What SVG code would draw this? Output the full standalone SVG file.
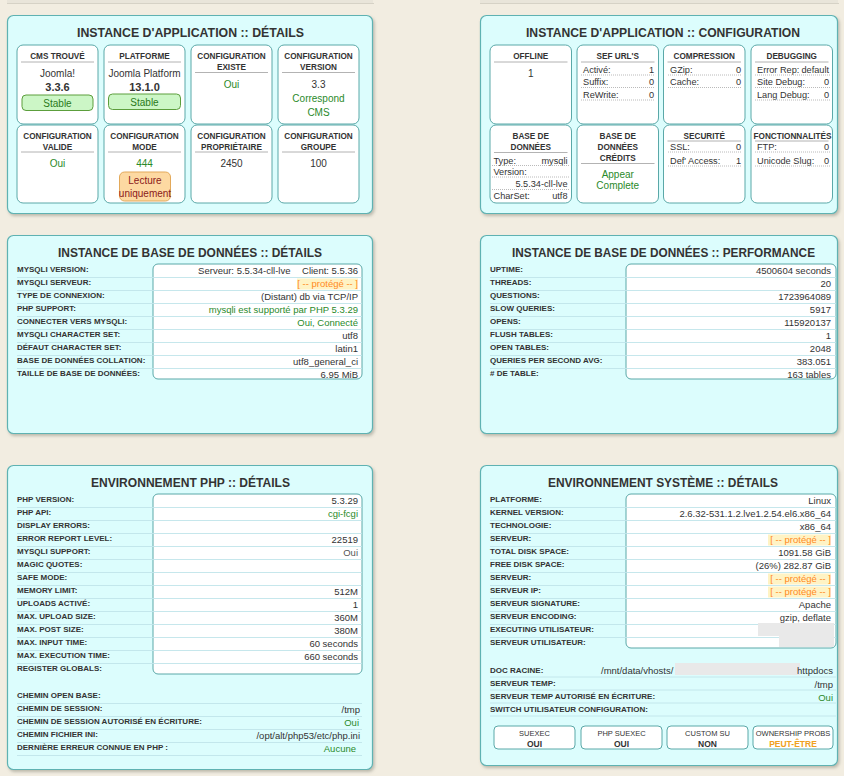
<svg xmlns="http://www.w3.org/2000/svg" width="844" height="776" viewBox="0 0 844 776">
<defs>
<filter id="sh" x="-5%" y="-5%" width="112%" height="112%">
<feDropShadow dx="1.5" dy="2" stdDeviation="1.5" flood-color="#7a7a70" flood-opacity="0.45"/>
</filter>
<style>
text{font-family:"Liberation Sans",Arial,sans-serif;fill:#333}
.panel{fill:#dcfdfd;stroke:#5fb2b2;stroke-width:1.2}
.card{fill:#fff;stroke:#5aa8a8;stroke-width:1}
.box{fill:#fff;stroke:#5aa8a8;stroke-width:1}
.title{font-size:12.5px;font-weight:bold;text-anchor:middle}
.ch{font-size:8.2px;font-weight:bold;text-anchor:middle}
.hl{stroke:#a0a0a0;stroke-width:0.8}
.dl{stroke:#a8a8a8;stroke-width:0.8;stroke-dasharray:1 1}
.ct{font-size:10px;text-anchor:middle}
.cb{font-size:11px;font-weight:bold;text-anchor:middle}
.rl{font-size:9.2px}
.rv{font-size:9.2px;text-anchor:end}
.lbl{font-size:8px;font-weight:bold}
.val{font-size:9.5px;text-anchor:end}
.g{fill:#2a8a2a}
.prot{fill:#ff8a1e}
.ph{fill:#fff3c4}
.sep{stroke:#bfe4ea;stroke-width:0.9}
.blur{fill:#e9e9e9}
.bt{font-size:7.5px;text-anchor:middle}
.bb{font-size:8.5px;font-weight:bold;text-anchor:middle}
</style>
</defs>
<rect x="0" y="0" width="844" height="776" fill="#f2ede1"/>
<rect x="7" y="0" width="366" height="3" fill="#e9e5da"/>
<rect x="480" y="0" width="358" height="3" fill="#e9e5da"/>
<line x1="7" y1="3.5" x2="374" y2="3.5" stroke="#d6d2c6"/>
<line x1="480" y1="3.5" x2="839" y2="3.5" stroke="#d6d2c6"/>

<!-- Panel 1 -->
<g id="app-details">
<rect class="panel" x="7.5" y="15.5" width="365" height="198" rx="6" filter="url(#sh)"/>
<text class="title" x="190.5" y="37" textLength="227" lengthAdjust="spacingAndGlyphs">INSTANCE D'APPLICATION :: DÉTAILS</text>
<g id="cms">
<rect class="card" x="17" y="45" width="81" height="79" rx="6"/>
<text class="ch" x="57.5" y="59">CMS TROUVÉ</text>
<line class="hl" x1="21" y1="62" x2="94" y2="62"/>
<text class="ct" x="57.5" y="77">Joomla!</text>
<text class="cb" x="57.5" y="91">3.3.6</text>
<rect x="22" y="95" width="71" height="15.5" rx="4" fill="#ccf6c6" stroke="#5c9e3c"/>
<text class="ct" x="57.5" y="106.5" style="fill:#2a7a1a">Stable</text>
</g>
<g id="platforme">
<rect class="card" x="104" y="45" width="81" height="79" rx="6"/>
<text class="ch" x="144.5" y="59">PLATFORME</text>
<line class="hl" x1="108" y1="62" x2="181" y2="62"/>
<text class="ct" x="144.5" y="77">Joomla Platform</text>
<text class="cb" x="144.5" y="91">13.1.0</text>
<rect x="108.5" y="94" width="72" height="15.5" rx="4" fill="#ccf6c6" stroke="#5c9e3c"/>
<text class="ct" x="144.5" y="105.5" style="fill:#2a7a1a">Stable</text>
</g>
<g id="conf-existe">
<rect class="card" x="191" y="45" width="81" height="79" rx="6"/>
<text class="ch" x="231.5" y="59">CONFIGURATION</text>
<text class="ch" x="231.5" y="70">EXISTE</text>
<line class="hl" x1="195" y1="72.5" x2="268" y2="72.5"/>
<text class="ct g" x="231.5" y="87.5">Oui</text>
</g>
<g id="conf-version">
<rect class="card" x="278" y="45" width="81" height="79" rx="6"/>
<text class="ch" x="318.5" y="59">CONFIGURATION</text>
<text class="ch" x="318.5" y="70">VERSION</text>
<line class="hl" x1="282" y1="72.5" x2="355" y2="72.5"/>
<text class="ct" x="318.5" y="87.5">3.3</text>
<text class="ct g" x="318.5" y="102">Correspond</text>
<text class="ct g" x="318.5" y="116">CMS</text>
</g>
<g id="conf-valide">
<rect class="card" x="17" y="125" width="81" height="78" rx="6"/>
<text class="ch" x="57.5" y="138.5">CONFIGURATION</text>
<text class="ch" x="57.5" y="149.5">VALIDE</text>
<line class="hl" x1="21" y1="152" x2="94" y2="152"/>
<text class="ct g" x="57.5" y="167">Oui</text>
</g>
<g id="conf-mode">
<rect class="card" x="104" y="125" width="81" height="78" rx="6"/>
<text class="ch" x="144.5" y="138.5">CONFIGURATION</text>
<text class="ch" x="144.5" y="149.5">MODE</text>
<line class="hl" x1="108" y1="152" x2="181" y2="152"/>
<text class="ct g" x="144.5" y="167">444</text>
<rect x="119.5" y="172" width="51" height="29" rx="5" fill="#fdd9a2" stroke="#e3a95a"/>
<text class="ct" x="145" y="183.5" style="fill:#8b1a1a">Lecture</text>
<text class="ct" x="145" y="197" style="fill:#8b1a1a">uniquement</text>
</g>
<g id="conf-proprietaire">
<rect class="card" x="191" y="125" width="81" height="78" rx="6"/>
<text class="ch" x="231.5" y="138.5">CONFIGURATION</text>
<text class="ch" x="231.5" y="149.5">PROPRIÉTAIRE</text>
<line class="hl" x1="195" y1="152" x2="268" y2="152"/>
<text class="ct" x="231.5" y="167">2450</text>
</g>
<g id="conf-groupe">
<rect class="card" x="278" y="125" width="81" height="78" rx="6"/>
<text class="ch" x="318.5" y="138.5">CONFIGURATION</text>
<text class="ch" x="318.5" y="149.5">GROUPE</text>
<line class="hl" x1="282" y1="152" x2="355" y2="152"/>
<text class="ct" x="318.5" y="167">100</text>
</g>
</g>

<!-- Panel 2 -->
<g id="app-config">
<rect class="panel" x="480.5" y="15.5" width="357" height="198" rx="6" filter="url(#sh)"/>
<text class="title" x="663" y="37" textLength="274" lengthAdjust="spacingAndGlyphs">INSTANCE D'APPLICATION :: CONFIGURATION</text>
<g id="offline">
<rect class="card" x="490" y="45" width="81.5" height="79" rx="6"/>
<text class="ch" x="530.75" y="59">OFFLINE</text>
<line class="hl" x1="494" y1="62" x2="567.5" y2="62"/>
<text class="ct" x="530.75" y="77">1</text>
</g>
<g id="sef">
<rect class="card" x="577" y="45" width="81.5" height="79" rx="6"/>
<text class="ch" x="617.75" y="59">SEF URL'S</text>
<line class="hl" x1="581" y1="62" x2="654.5" y2="62"/>
<text class="rl" x="583" y="72.5">Activé:</text><text class="rv" x="654" y="72.5">1</text>
<line class="dl" x1="581" y1="75" x2="655" y2="75"/>
<text class="rl" x="583" y="85">Suffix:</text><text class="rv" x="654" y="85">0</text>
<line class="dl" x1="581" y1="87.5" x2="655" y2="87.5"/>
<text class="rl" x="583" y="97.5">ReWrite:</text><text class="rv" x="654" y="97.5">0</text>
<line class="dl" x1="581" y1="100" x2="655" y2="100"/>
</g>
<g id="compression">
<rect class="card" x="663.5" y="45" width="81.5" height="79" rx="6"/>
<text class="ch" x="704.25" y="59">COMPRESSION</text>
<line class="hl" x1="667.5" y1="62" x2="741" y2="62"/>
<text class="rl" x="670" y="72.5">GZip:</text><text class="rv" x="741" y="72.5">0</text>
<line class="dl" x1="668" y1="75" x2="742" y2="75"/>
<text class="rl" x="670" y="85">Cache:</text><text class="rv" x="741" y="85">0</text>
<line class="dl" x1="668" y1="87.5" x2="742" y2="87.5"/>
</g>
<g id="debugging">
<rect class="card" x="751" y="45" width="81.5" height="79" rx="6"/>
<text class="ch" x="791.75" y="59">DEBUGGING</text>
<line class="hl" x1="755" y1="62" x2="828.5" y2="62"/>
<text class="rl" x="757" y="72.5">Error Rep:</text><text class="rv" x="829" y="72.5">default</text>
<line class="dl" x1="755" y1="75" x2="830" y2="75"/>
<text class="rl" x="757" y="85">Site Debug:</text><text class="rv" x="829" y="85">0</text>
<line class="dl" x1="755" y1="87.5" x2="830" y2="87.5"/>
<text class="rl" x="757" y="97.5">Lang Debug:</text><text class="rv" x="829" y="97.5">0</text>
<line class="dl" x1="755" y1="100" x2="830" y2="100"/>
</g>
<g id="database">
<rect class="card" x="490" y="125" width="81.5" height="78" rx="6"/>
<text class="ch" x="530.75" y="138.5">BASE DE</text>
<text class="ch" x="530.75" y="149.5">DONNÉES</text>
<line class="hl" x1="494" y1="152.5" x2="567.5" y2="152.5"/>
<text class="rl" x="493.5" y="163.5">Type:</text><text class="rv" x="567.5" y="163.5">mysqli</text>
<line class="dl" x1="492" y1="165.5" x2="569" y2="165.5"/>
<text class="rl" x="493.5" y="175">Version:</text>
<line class="dl" x1="492" y1="177" x2="569" y2="177"/>
<text class="rv" x="567.5" y="187">5.5.34-cll-lve</text>
<line class="dl" x1="492" y1="189.5" x2="569" y2="189.5"/>
<text class="rl" x="493.5" y="199">CharSet:</text><text class="rv" x="567.5" y="199">utf8</text>
</g>
<g id="db-credits">
<rect class="card" x="577" y="125" width="81.5" height="78" rx="6"/>
<text class="ch" x="617.75" y="138.5">BASE DE</text>
<text class="ch" x="617.75" y="149.5">DONNÉES</text>
<text class="ch" x="617.75" y="160.5">CRÉDITS</text>
<line class="hl" x1="581" y1="163.5" x2="654.5" y2="163.5"/>
<text class="ct g" x="617.75" y="177.5">Appear</text>
<text class="ct g" x="617.75" y="189">Complete</text>
</g>
<g id="securite">
<rect class="card" x="663.5" y="125" width="81.5" height="78" rx="6"/>
<text class="ch" x="704.25" y="138.5">SECURITÉ</text>
<line class="hl" x1="667.5" y1="141" x2="741" y2="141"/>
<text class="rl" x="670" y="150">SSL:</text><text class="rv" x="741" y="150">0</text>
<line class="dl" x1="668" y1="152" x2="742" y2="152"/>
<text class="rl" x="670" y="163.5">Def' Access:</text><text class="rv" x="741" y="163.5">1</text>
<line class="dl" x1="668" y1="166" x2="742" y2="166"/>
</g>
<g id="fonctionnalites">
<rect class="card" x="751" y="125" width="81.5" height="78" rx="6"/>
<text class="ch" x="792.5" y="138.5" textLength="78" lengthAdjust="spacingAndGlyphs">FONCTIONNALITÉS</text>
<line class="hl" x1="755" y1="141" x2="828.5" y2="141"/>
<text class="rl" x="757" y="150">FTP:</text><text class="rv" x="829" y="150">0</text>
<line class="dl" x1="755" y1="152" x2="830" y2="152"/>
<text class="rl" x="757" y="163.5">Unicode Slug:</text><text class="rv" x="829" y="163.5">0</text>
<line class="dl" x1="755" y1="166" x2="830" y2="166"/>
</g>
</g>

<!-- Panel 3 -->
<g id="db-details">
<rect class="panel" x="7.5" y="235.5" width="365" height="198" rx="6" filter="url(#sh)"/>
<text class="title" x="190" y="257" textLength="264" lengthAdjust="spacingAndGlyphs">INSTANCE DE BASE DE DONNÉES :: DÉTAILS</text>
<rect class="box" x="153" y="264" width="209" height="115" rx="5"/>
<g>
<line class="sep" x1="17" y1="277.5" x2="362" y2="277.5"/>
<line class="sep" x1="17" y1="290.5" x2="362" y2="290.5"/>
<line class="sep" x1="17" y1="303.5" x2="362" y2="303.5"/>
<line class="sep" x1="17" y1="316.5" x2="362" y2="316.5"/>
<line class="sep" x1="17" y1="329.5" x2="362" y2="329.5"/>
<line class="sep" x1="17" y1="342.5" x2="362" y2="342.5"/>
<line class="sep" x1="17" y1="355.5" x2="362" y2="355.5"/>
<line class="sep" x1="17" y1="368.5" x2="362" y2="368.5"/>
</g>
<rect class="ph" x="297" y="278.5" width="61" height="11"/>
<text class="lbl" x="17" y="272">MYSQLI VERSION:</text>
<text class="val" x="290.5" y="274">Serveur: 5.5.34-cll-lve</text><text class="val" x="358" y="274">Client: 5.5.36</text>
<text class="lbl" x="17" y="285">MYSQLI SERVEUR:</text>
<text class="val prot" x="358" y="287">[ -- protégé -- ]</text>
<text class="lbl" x="17" y="298">TYPE DE CONNEXION:</text>
<text class="val" x="358" y="300">(Distant) db via TCP/IP</text>
<text class="lbl" x="17" y="311">PHP SUPPORT:</text>
<text class="val g" x="358" y="313">mysqli est supporté par PHP 5.3.29</text>
<text class="lbl" x="17" y="324">CONNECTER VERS MYSQLI:</text>
<text class="val g" x="358" y="326">Oui, Connecté</text>
<text class="lbl" x="17" y="337">MYSQLI CHARACTER SET:</text>
<text class="val" x="358" y="339">utf8</text>
<text class="lbl" x="17" y="350">DÉFAUT CHARACTER SET:</text>
<text class="val" x="358" y="352">latin1</text>
<text class="lbl" x="17" y="363">BASE DE DONNÉES COLLATION:</text>
<text class="val" x="358" y="365">utf8_general_ci</text>
<text class="lbl" x="17" y="376">TAILLE DE BASE DE DONNÉES:</text>
<text class="val" x="358" y="378">6.95 MiB</text>
</g>

<!-- Panel 4 -->
<g id="db-performance">
<rect class="panel" x="480.5" y="235.5" width="357" height="198" rx="6" filter="url(#sh)"/>
<text class="title" x="663.5" y="257" style="font-size:12px" textLength="303" lengthAdjust="spacingAndGlyphs">INSTANCE DE BASE DE DONNÉES :: PERFORMANCE</text>
<rect class="box" x="626" y="264" width="210" height="115" rx="5"/>
<g>
<line class="sep" x1="490" y1="277.5" x2="836" y2="277.5"/>
<line class="sep" x1="490" y1="290.5" x2="836" y2="290.5"/>
<line class="sep" x1="490" y1="303.5" x2="836" y2="303.5"/>
<line class="sep" x1="490" y1="316.5" x2="836" y2="316.5"/>
<line class="sep" x1="490" y1="329.5" x2="836" y2="329.5"/>
<line class="sep" x1="490" y1="342.5" x2="836" y2="342.5"/>
<line class="sep" x1="490" y1="355.5" x2="836" y2="355.5"/>
<line class="sep" x1="490" y1="368.5" x2="836" y2="368.5"/>
</g>
<text class="lbl" x="490" y="272">UPTIME:</text><text class="val" x="831" y="274">4500604 seconds</text>
<text class="lbl" x="490" y="285">THREADS:</text><text class="val" x="831" y="287">20</text>
<text class="lbl" x="490" y="298">QUESTIONS:</text><text class="val" x="831" y="300">1723964089</text>
<text class="lbl" x="490" y="311">SLOW QUERIES:</text><text class="val" x="831" y="313">5917</text>
<text class="lbl" x="490" y="324">OPENS:</text><text class="val" x="831" y="326">115920137</text>
<text class="lbl" x="490" y="337">FLUSH TABLES:</text><text class="val" x="831" y="339">1</text>
<text class="lbl" x="490" y="350">OPEN TABLES:</text><text class="val" x="831" y="352">2048</text>
<text class="lbl" x="490" y="363">QUERIES PER SECOND AVG:</text><text class="val" x="831" y="365">383.051</text>
<text class="lbl" x="490" y="376"># DE TABLE:</text><text class="val" x="831" y="378">163 tables</text>
</g>

<!-- Panel 5 -->
<g id="php-env">
<rect class="panel" x="7.5" y="465.5" width="365" height="304" rx="6" filter="url(#sh)"/>
<text class="title" x="190.5" y="487" textLength="199" lengthAdjust="spacingAndGlyphs">ENVIRONNEMENT PHP :: DÉTAILS</text>
<rect class="box" x="153" y="494" width="209" height="180" rx="5"/>
<g>
<line class="sep" x1="17" y1="507.5" x2="362" y2="507.5"/>
<line class="sep" x1="17" y1="520.5" x2="362" y2="520.5"/>
<line class="sep" x1="17" y1="533.5" x2="362" y2="533.5"/>
<line class="sep" x1="17" y1="546.5" x2="362" y2="546.5"/>
<line class="sep" x1="17" y1="559.5" x2="362" y2="559.5"/>
<line class="sep" x1="17" y1="572.5" x2="362" y2="572.5"/>
<line class="sep" x1="17" y1="585.5" x2="362" y2="585.5"/>
<line class="sep" x1="17" y1="598.5" x2="362" y2="598.5"/>
<line class="sep" x1="17" y1="611.5" x2="362" y2="611.5"/>
<line class="sep" x1="17" y1="624.5" x2="362" y2="624.5"/>
<line class="sep" x1="17" y1="637.5" x2="362" y2="637.5"/>
<line class="sep" x1="17" y1="650.5" x2="362" y2="650.5"/>
<line class="sep" x1="17" y1="663.5" x2="362" y2="663.5"/>
<line class="sep" x1="17" y1="703.5" x2="362" y2="703.5"/>
<line class="sep" x1="17" y1="716.5" x2="362" y2="716.5"/>
<line class="sep" x1="17" y1="729.5" x2="362" y2="729.5"/>
<line class="sep" x1="17" y1="742.5" x2="362" y2="742.5"/>
<line class="sep" x1="17" y1="755.5" x2="362" y2="755.5"/>
</g>
<text class="lbl" x="17" y="502">PHP VERSION:</text><text class="val" x="358" y="504">5.3.29</text>
<text class="lbl" x="17" y="515">PHP API:</text><text class="val g" x="358" y="517">cgi-fcgi</text>
<text class="lbl" x="17" y="528">DISPLAY ERRORS:</text>
<text class="lbl" x="17" y="541">ERROR REPORT LEVEL:</text><text class="val" x="358" y="543">22519</text>
<text class="lbl" x="17" y="554">MYSQLI SUPPORT:</text><text class="val" x="358" y="556" style="fill:#555">Oui</text>
<text class="lbl" x="17" y="567">MAGIC QUOTES:</text>
<text class="lbl" x="17" y="580">SAFE MODE:</text>
<text class="lbl" x="17" y="593">MEMORY LIMIT:</text><text class="val" x="358" y="595">512M</text>
<text class="lbl" x="17" y="606">UPLOADS ACTIVÉ:</text><text class="val" x="358" y="608">1</text>
<text class="lbl" x="17" y="619">MAX. UPLOAD SIZE:</text><text class="val" x="358" y="621">360M</text>
<text class="lbl" x="17" y="632">MAX. POST SIZE:</text><text class="val" x="358" y="634">380M</text>
<text class="lbl" x="17" y="645">MAX. INPUT TIME:</text><text class="val" x="358" y="647">60 seconds</text>
<text class="lbl" x="17" y="658">MAX. EXECUTION TIME:</text><text class="val" x="358" y="660">660 seconds</text>
<text class="lbl" x="17" y="671">REGISTER GLOBALS:</text>
<text class="lbl" x="17" y="698">CHEMIN OPEN BASE:</text>
<text class="lbl" x="17" y="711">CHEMIN DE SESSION:</text><text class="val" x="360" y="713">/tmp</text>
<text class="lbl" x="17" y="724">CHEMIN DE SESSION AUTORISÉ EN ÉCRITURE:</text><text class="val g" x="359" y="726">Oui</text>
<text class="lbl" x="17" y="737">CHEMIN FICHIER INI:</text><text class="val" x="360" y="739">/opt/alt/php53/etc/php.ini</text>
<text class="lbl" x="17" y="750">DERNIÈRE ERREUR CONNUE EN PHP :</text><text class="val g" x="356" y="752">Aucune</text>
</g>

<!-- Panel 6 -->
<g id="system-env">
<rect class="panel" x="480.5" y="465.5" width="357" height="300" rx="6" filter="url(#sh)"/>
<text class="title" x="663" y="487" textLength="230" lengthAdjust="spacingAndGlyphs">ENVIRONNEMENT SYSTÈME :: DÉTAILS</text>
<rect class="box" x="626" y="494" width="210" height="154" rx="5"/>
<g>
<line class="sep" x1="490" y1="507.5" x2="836" y2="507.5"/>
<line class="sep" x1="490" y1="520.5" x2="836" y2="520.5"/>
<line class="sep" x1="490" y1="533.5" x2="836" y2="533.5"/>
<line class="sep" x1="490" y1="546.5" x2="836" y2="546.5"/>
<line class="sep" x1="490" y1="559.5" x2="836" y2="559.5"/>
<line class="sep" x1="490" y1="572.5" x2="836" y2="572.5"/>
<line class="sep" x1="490" y1="585.5" x2="836" y2="585.5"/>
<line class="sep" x1="490" y1="598.5" x2="836" y2="598.5"/>
<line class="sep" x1="490" y1="611.5" x2="836" y2="611.5"/>
<line class="sep" x1="490" y1="624.5" x2="836" y2="624.5"/>
<line class="sep" x1="490" y1="637.5" x2="836" y2="637.5"/>
<line class="sep" x1="490" y1="677" x2="836" y2="677"/>
<line class="sep" x1="490" y1="690" x2="836" y2="690"/>
<line class="sep" x1="490" y1="703" x2="836" y2="703"/>
<line class="sep" x1="490" y1="716" x2="836" y2="716"/>
</g>
<rect class="ph" x="768" y="534.5" width="63" height="11"/>
<rect class="ph" x="768" y="573.5" width="63" height="11"/>
<rect class="ph" x="768" y="586.5" width="63" height="11"/>
<rect class="blur" x="758" y="623" width="76" height="13"/>
<rect class="blur" x="779" y="636" width="55" height="11"/>
<text class="lbl" x="490" y="502">PLATFORME:</text><text class="val" x="831" y="504">Linux</text>
<text class="lbl" x="490" y="515">KERNEL VERSION:</text><text class="val" x="831" y="517">2.6.32-531.1.2.lve1.2.54.el6.x86_64</text>
<text class="lbl" x="490" y="528">TECHNOLOGIE:</text><text class="val" x="831" y="530">x86_64</text>
<text class="lbl" x="490" y="541">SERVEUR:</text><text class="val prot" x="831" y="543">[ -- protégé -- ]</text>
<text class="lbl" x="490" y="554">TOTAL DISK SPACE:</text><text class="val" x="831" y="556">1091.58 GiB</text>
<text class="lbl" x="490" y="567">FREE DISK SPACE:</text><text class="val" x="831" y="569">(26%) 282.87 GiB</text>
<text class="lbl" x="490" y="580">SERVEUR:</text><text class="val prot" x="831" y="582">[ -- protégé -- ]</text>
<text class="lbl" x="490" y="593">SERVEUR IP:</text><text class="val prot" x="831" y="595">[ -- protégé -- ]</text>
<text class="lbl" x="490" y="606">SERVEUR SIGNATURE:</text><text class="val" x="831" y="608">Apache</text>
<text class="lbl" x="490" y="619">SERVEUR ENCODING:</text><text class="val" x="831" y="621">gzip, deflate</text>
<text class="lbl" x="490" y="632">EXECUTING UTILISATEUR:</text>
<text class="lbl" x="490" y="645">SERVEUR UTILISATEUR:</text>
<rect class="blur" x="675" y="663" width="125" height="12"/>
<text class="lbl" x="490" y="673">DOC RACINE:</text>
<text x="601" y="674" style="font-size:9.5px">/mnt/data/vhosts/</text>
<text class="val" x="833" y="674">httpdocs</text>
<text class="lbl" x="490" y="686">SERVEUR TEMP:</text><text class="val" x="833" y="688">/tmp</text>
<text class="lbl" x="490" y="699">SERVEUR TEMP AUTORISÉ EN ÉCRITURE:</text><text class="val g" x="833" y="701">Oui</text>
<text class="lbl" x="490" y="712">SWITCH UTILISATEUR CONFIGURATION:</text>
<g id="btn-suexec">
<rect class="card" x="494" y="726" width="81" height="23" rx="4"/>
<text class="bt" x="534.5" y="736">SUEXEC</text>
<text class="bb" x="534.5" y="747">OUI</text>
</g>
<g id="btn-php-suexec">
<rect class="card" x="581" y="726" width="81" height="23" rx="4"/>
<text class="bt" x="621.5" y="736">PHP SUEXEC</text>
<text class="bb" x="621.5" y="747">OUI</text>
</g>
<g id="btn-custom-su">
<rect class="card" x="667" y="726" width="81" height="23" rx="4"/>
<text class="bt" x="707.5" y="736">CUSTOM SU</text>
<text class="bb" x="707.5" y="747">NON</text>
</g>
<g id="btn-ownership">
<rect class="card" x="753" y="726" width="80" height="23" rx="4"/>
<text class="bt" x="793" y="736">OWNERSHIP PROBS</text>
<text class="bb" x="793" y="747" style="fill:#f0a020">PEUT-ÊTRE</text>
</g>
</g>
</svg>
